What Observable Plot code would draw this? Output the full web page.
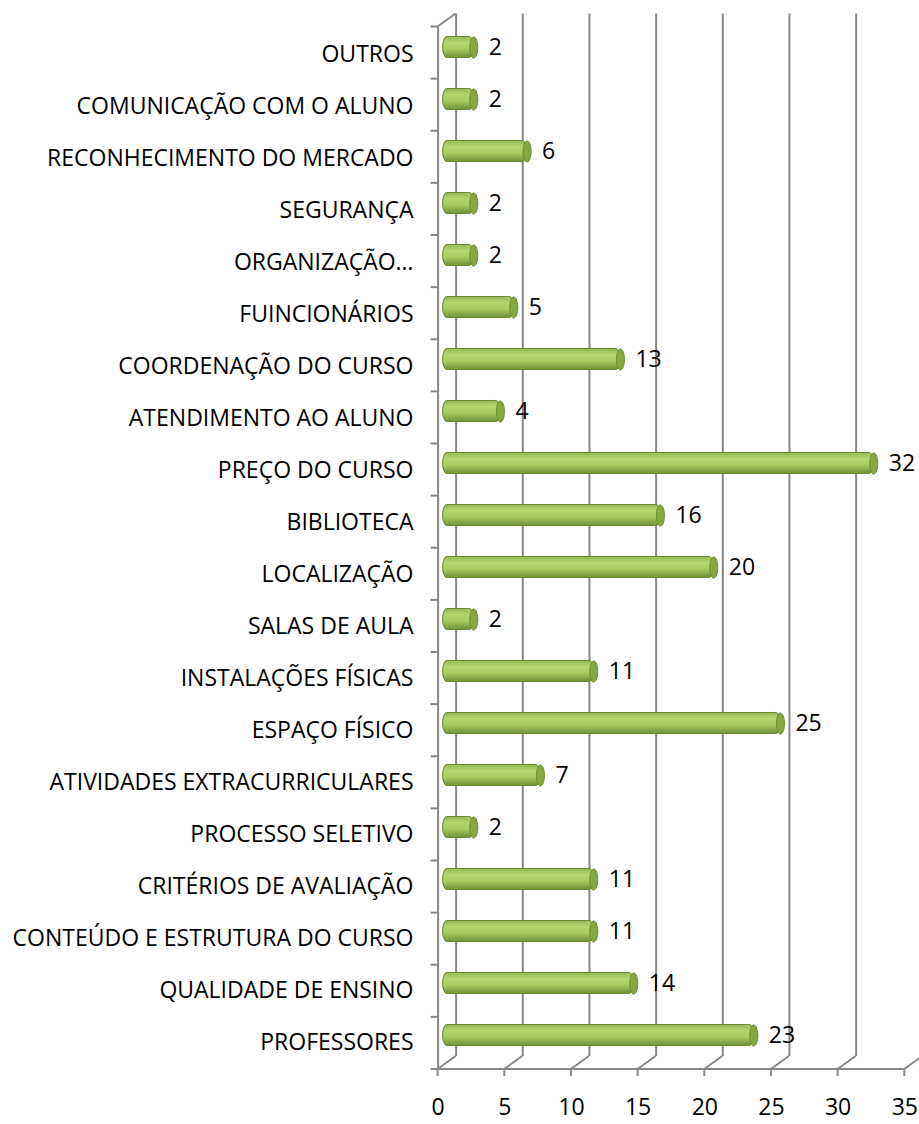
<!DOCTYPE html>
<html><head><meta charset="utf-8">
<script src="https://cdn.jsdelivr.net/npm/d3@7"></script>
<script src="https://cdn.jsdelivr.net/npm/@observablehq/plot@0.6"></script>
<style>body{margin:0;background:#fff}</style>
</head><body><div id="chart"></div>
<script>
const categories = [
  "OUTROS",
  "COMUNICAÇÃO COM O ALUNO",
  "RECONHECIMENTO DO MERCADO",
  "SEGURANÇA",
  "ORGANIZAÇÃO…",
  "FUINCIONÁRIOS",
  "COORDENAÇÃO DO CURSO",
  "ATENDIMENTO AO ALUNO",
  "PREÇO DO CURSO",
  "BIBLIOTECA",
  "LOCALIZAÇÃO",
  "SALAS DE AULA",
  "INSTALAÇÕES FÍSICAS",
  "ESPAÇO FÍSICO",
  "ATIVIDADES EXTRACURRICULARES",
  "PROCESSO SELETIVO",
  "CRITÉRIOS DE AVALIAÇÃO",
  "CONTEÚDO E ESTRUTURA DO CURSO",
  "QUALIDADE DE ENSINO",
  "PROFESSORES"
];
const values = [2, 2, 6, 2, 2, 5, 13, 4, 32, 16, 20, 2, 11, 25, 7, 2, 11, 11, 14, 23];
const xTicks = [0, 5, 10, 15, 20, 25, 30, 35];

const data = categories.map((c, i) => ({category: c, value: values[i]}));

const DX = 9, DY = 6.5;           // half depth offset of the 3D box
const FONT = "'Open Sans', sans-serif";
const FS = 23;
const GRID = "#878787";
const GW = 2;

function frame3d(index, scales, vals, dims) {
  const x = scales.x;
  const top = dims.marginTop, bottom = dims.height - dims.marginBottom;
  const n = categories.length;
  const step = (bottom - top) / n;
  const g = d3.create("svg:g")
    .attr("stroke", GRID).attr("stroke-width", GW).attr("fill", "none");
  const x0 = x(xTicks[0]), xN = x(xTicks[xTicks.length - 1]);
  // front floor line
  g.append("line").attr("x1", x0 - DX).attr("x2", xN - DX)
    .attr("y1", bottom + DY).attr("y2", bottom + DY);
  // floor slants + front ticks
  for (const t of xTicks) {
    g.append("line").attr("x1", x(t) - DX).attr("y1", bottom + DY)
      .attr("x2", x(t) + DX).attr("y2", bottom - DY);
    g.append("line").attr("x1", x(t) - DX).attr("y1", bottom + DY)
      .attr("x2", x(t) - DX).attr("y2", bottom + DY + 7);
  }
  // top slant of left wall
  g.append("line").attr("x1", x0 - DX).attr("y1", top + DY)
    .attr("x2", x0 + DX).attr("y2", top - DY);
  // category boundary ticks on front left axis
  for (let k = 0; k <= n; k++) {
    const yy = top + DY + k * step;
    g.append("line").attr("x1", x0 - DX - 7).attr("x2", x0 - DX)
      .attr("y1", yy).attr("y2", yy);
  }
  return g.node();
}

const ellipseCap = {
  draw(ctx) {
    const rx = 4, ry = 10.5, k = 0.5523;
    ctx.moveTo(rx, 0);
    ctx.bezierCurveTo(rx, ry * k, rx * k, ry, 0, ry);
    ctx.bezierCurveTo(-rx * k, ry, -rx, ry * k, -rx, 0);
    ctx.bezierCurveTo(-rx, -ry * k, -rx * k, -ry, 0, -ry);
    ctx.bezierCurveTo(rx * k, -ry, rx, -ry * k, rx, 0);
    ctx.closePath();
  }
};

const plot = Plot.plot({
  width: 919,
  height: 1124,
  marginLeft: 446.6,
  marginRight: 5.7,
  marginTop: 20,
  marginBottom: 61.5,
  style: {fontFamily: FONT, fontSize: FS + "px", color: "#000", background: "#fff"},
  x: {domain: [0, 35], axis: null},
  y: {domain: categories, axis: null, padding: 0},
  marks: [
    // back wall gridlines
    Plot.ruleX(xTicks, {x: d => d, dx: DX, dy: -DY, stroke: GRID, strokeWidth: GW}),
    // front left axis line
    Plot.ruleX([0], {dx: -DX, dy: DY, stroke: GRID, strokeWidth: GW}),
    frame3d,
    // cylinder bodies
    Plot.barX(data, {
      x1: 0, x2: "value", y: "category",
      insetTop: 15.5, insetBottom: 15.5, insetLeft: -4,
      rx: 4, ry: 10.5,
      fill: "url(#cyl)", stroke: "#6a8830", strokeWidth: 1
    }),
    // end caps
    Plot.dot(data, {
      x: "value", y: "category", symbol: ellipseCap,
      fill: "#86a842", stroke: "#6a8830", strokeWidth: 1
    }),
    // value labels
    Plot.text(data, {
      x: "value", y: "category", text: d => String(d.value),
      textAnchor: "start", dx: 15, fontSize: FS, fill: "#000"
    }),
    // category labels
    Plot.text(data, {
      y: "category", text: "category", frameAnchor: "left",
      textAnchor: "end", dx: -DX - 24.6, dy: DY + 1, fontSize: FS, fill: "#000"
    }),
    // x tick labels
    Plot.text(xTicks, {
      x: d => d, text: d => String(d), frameAnchor: "bottom",
      dx: -DX, dy: 52, fontSize: FS, fill: "#000"
    })
  ]
});

const defs = document.createElementNS("http://www.w3.org/2000/svg", "defs");
defs.innerHTML = `<linearGradient id="cyl" x1="0" y1="0" x2="0" y2="1">
  <stop offset="0" stop-color="#96b755"/>
  <stop offset="0.3" stop-color="#b5d670"/>
  <stop offset="0.6" stop-color="#a9cc62"/>
  <stop offset="1" stop-color="#6f8f35"/>
</linearGradient>`;
plot.insertBefore(defs, plot.firstChild);
document.getElementById("chart").appendChild(plot);
</script>
</body></html>
